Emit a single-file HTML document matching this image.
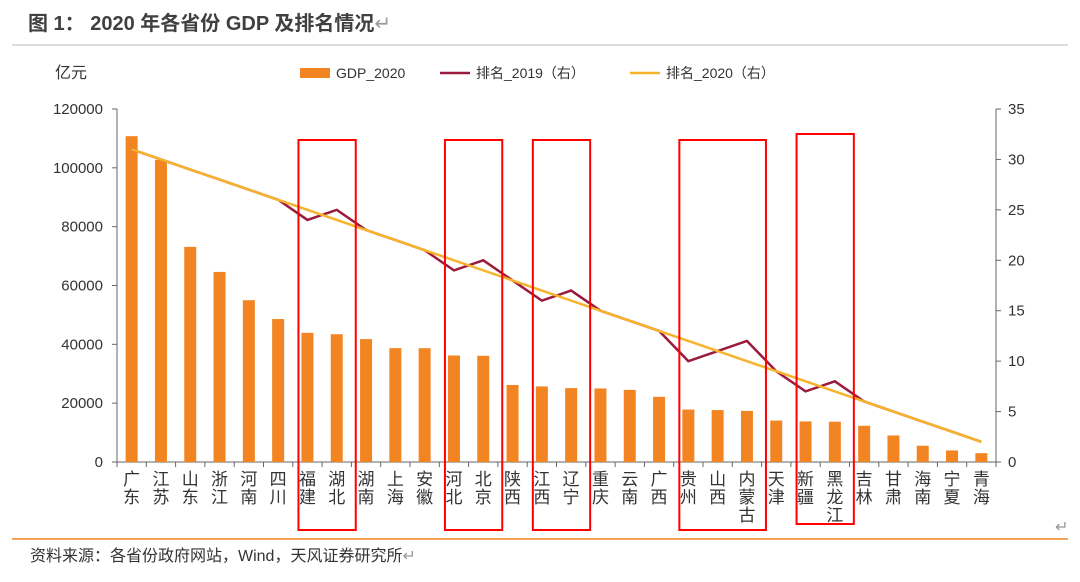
<!DOCTYPE html>
<html><head><meta charset="utf-8"><style>
body{margin:0;background:#fff;font-family:"Liberation Sans","Noto Sans CJK SC",sans-serif;}
#wrap{position:relative;width:1080px;height:582px;overflow:hidden}
</style></head><body><div id="wrap">
<svg width="1080" height="582" id="svg" style="position:absolute;left:0;top:0">
<text x="28" y="30" font-size="20" font-weight="bold" fill="#404040">图 1：   2020 年各省份 GDP 及排名情况<tspan font-weight="normal" fill="#999">↵</tspan></text>
<line x1="12" y1="45" x2="1068" y2="45" stroke="#bbb" stroke-width="1"/>
<text x="55" y="78" font-size="16" fill="#333">亿元</text>
<g font-size="14" fill="#333">
<rect x="300" y="68" width="30" height="10" fill="#f28522"/>
<text x="336" y="78">GDP_2020</text>
<line x1="440" y1="73" x2="470" y2="73" stroke="#9b1b3c" stroke-width="2.5"/>
<text x="476" y="78">排名_2019（右）</text>
<line x1="630" y1="73" x2="660" y2="73" stroke="#f7b32b" stroke-width="2.5"/>
<text x="666" y="78">排名_2020（右）</text>
</g>
<g id="plot"></g>
<line x1="12" y1="539" x2="1068" y2="539" stroke="#f28522" stroke-width="1.5"/>
<text x="30" y="561" font-size="16" fill="#333">资料来源：各省份政府网站，Wind，天风证券研究所<tspan fill="#999">↵</tspan></text>
<text x="1055" y="532" font-size="16" fill="#999">↵</text>
</svg></div>
<script>
const provinces=["广东","江苏","山东","浙江","河南","四川","福建","湖北","湖南","上海","安徽","河北","北京","陕西","江西","辽宁","重庆","云南","广西","贵州","山西","内蒙古","天津","新疆","黑龙江","吉林","甘肃","海南","宁夏","青海"];
const gdp2020=[110761,102719,73129,64613,54997,48599,43904,43443,41782,38701,38681,36207,36103,26182,25692,25115,25003,24522,22157,17827,17652,17360,14084,13798,13698,12311,9017,5532,3921,3006];
const rank2019=[31,30,29,28,27,26,24,25,23,22,21,19,20,18,16,17,15,14,13,10,11,12,9,7,8,6,5,4,3,2];
const rank2020=[31,30,29,28,27,26,25,24,23,22,21,20,19,18,17,16,15,14,13,12,11,10,9,8,7,6,5,4,3,2];
const leftTicks=[0,20000,40000,60000,80000,100000,120000];
const rightTicks=[0,5,10,15,20,25,30,35];
const highlightGroups=[[6,7],[11,12],[14,15],[19,21],[23,24]];
const NS="http://www.w3.org/2000/svg";
const g=document.getElementById("plot");
const X0=117,X1=996,Y0=462,Y1=109;
const bw=(X1-X0)/provinces.length;
const xc=i=>X0+bw*(i+0.5);
const yL=v=>Y0-(v/120000)*(Y0-Y1);
const yR=v=>Y0-(v/35)*(Y0-Y1);
function el(t,a){const e=document.createElementNS(NS,t);for(const k in a)e.setAttribute(k,a[k]);g.appendChild(e);return e;}
let a=el("line",{x1:X0,y1:Y1,x2:X0,y2:Y0,stroke:"#666"});


a=el("line",{x1:X1,y1:Y1,x2:X1,y2:Y0,stroke:"#666"});


a=el("line",{x1:X0-5,y1:Y0,x2:X1+5,y2:Y0,stroke:"#666"});


leftTicks.forEach(v=>{
 let t=el("line",{x1:X0-5,y1:yL(v),x2:X0,y2:yL(v),stroke:"#666"});
 
 
 let s=el("text",{x:X0-14,y:yL(v)+5,"font-size":15,"text-anchor":"end",fill:"#333"});s.textContent=v;
 
 
});
rightTicks.forEach(v=>{
 let t=el("line",{x1:X1,y1:yR(v),x2:X1+5,y2:yR(v),stroke:"#666"});
 
 
 let s=el("text",{x:X1+12,y:yR(v)+5,"font-size":15,fill:"#333"});s.textContent=v;
 
 
});
for(let i=0;i<=provinces.length;i++){
 let t=el("line",{x1:X0+bw*i,y1:Y0,x2:X0+bw*i,y2:Y0+5,stroke:"#666"});
 
 
}
provinces.forEach((p,i)=>{
 let r=el("rect",{x:xc(i)-6,y:yL(gdp2020[i]),width:12,height:Y0-yL(gdp2020[i]),fill:"#f28522"});
 
 
 let s=el("text",{"font-size":17,fill:"#333","text-anchor":"middle"});
 
 
 [...p].forEach((c,k)=>{const ts=document.createElementNS(NS,"tspan");ts.setAttribute("x",xc(i));ts.setAttribute("y",Y0+23+k*18);ts.textContent=c;s.appendChild(ts);});
});
const p19=el("polyline",{points:rank2019.map((v,i)=>xc(i)+","+yR(v)).join(" "),fill:"none",stroke:"#9b1b3c","stroke-width":2.5});


const p20=el("polyline",{points:rank2020.map((v,i)=>xc(i)+","+yR(v)).join(" "),fill:"none",stroke:"#f7b32b","stroke-width":2.5});


highlightGroups.forEach((h,k)=>{
 const top=k===4?134:140;
 const l=xc(h[0])-9, r2=xc(h[1])+19;
 let r=el("rect",{x:l,y:top,width:r2-l,height:390,fill:"none",stroke:"#f00","stroke-width":2});
 
 
});
</script></body></html>
